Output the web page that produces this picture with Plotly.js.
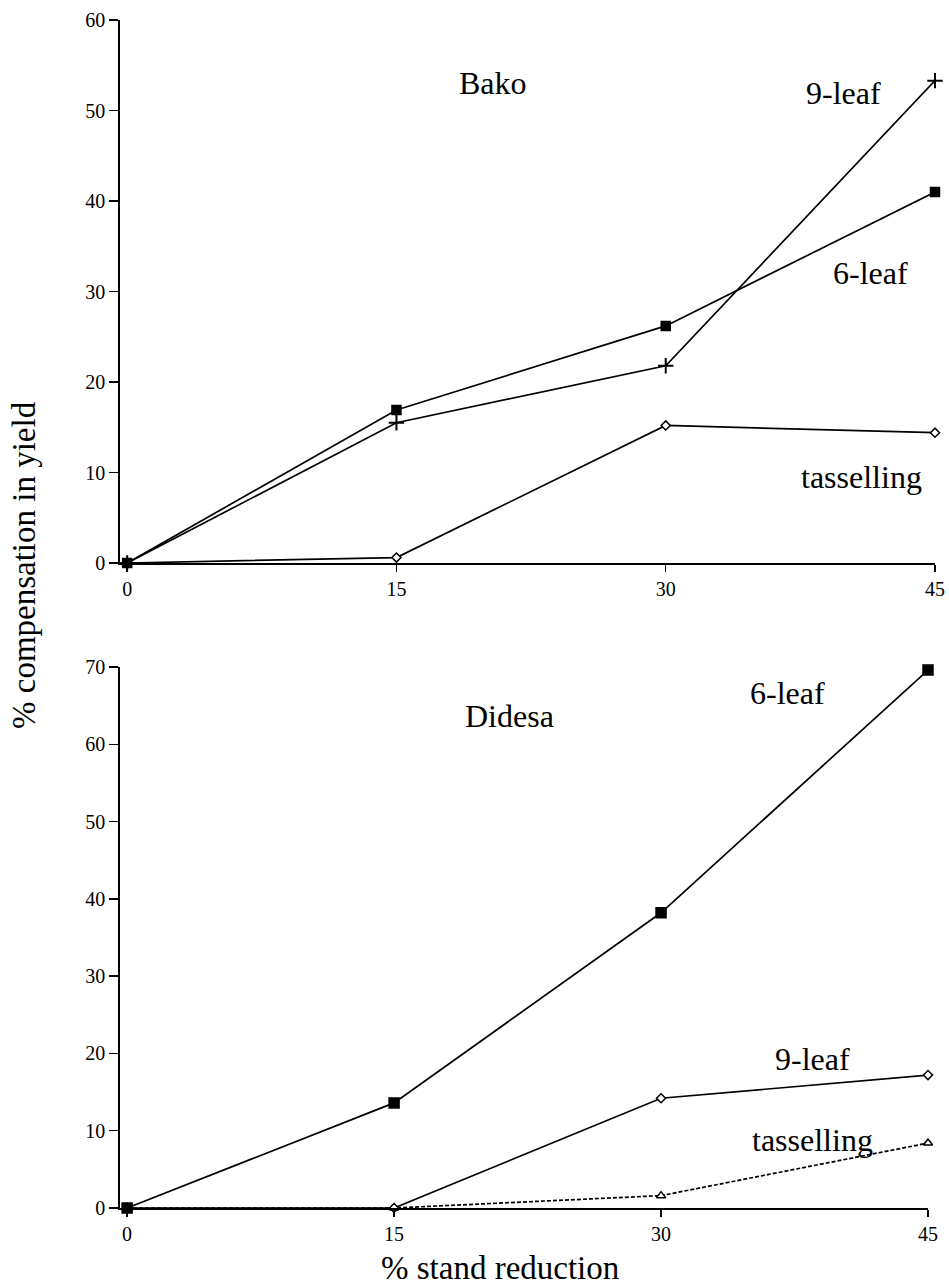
<!DOCTYPE html>
<html><head><meta charset="utf-8">
<script src="https://cdn.plot.ly/plotly-3.0.1.min.js"></script>
<style>html,body{margin:0;padding:0;background:#fff}</style></head>
<body><div id="chart" style="width:949px;height:1286px"></div>
<script>
const standReduction = [0, 15, 30, 45];
const xTickLabels = ['0', '15', '30', '45'];
const bakoSixLeaf = [0, 16.9, 26.2, 41.0];
const bakoNineLeaf = [0, 15.5, 21.8, 53.3];
const bakoTasselling = [0, 0.6, 15.2, 14.4];
const didesaSixLeaf = [0, 13.6, 38.2, 69.6];
const didesaNineLeaf = [0, 0, 14.2, 17.2];
const didesaTasselling = [0, 0, 1.6, 8.4];
const topYTicks = [0, 10, 20, 30, 40, 50, 60];
const bottomYTicks = [0, 10, 20, 30, 40, 50, 60, 70];

const FONT = '"Liberation Serif", serif';
const line = {color: '#000', width: 1.7};

function tr(y, xa, ya, sym, size, dash, fill) {
  return {
    x: standReduction, y: y, xaxis: xa, yaxis: ya, type: 'scatter', mode: 'lines+markers',
    line: Object.assign({}, line, {dash: dash || 'solid'}),
    marker: {symbol: sym, size: size, color: fill ? '#000' : '#fff', line: {color: '#000', width: 1.5}},
    cliponaxis: false, showlegend: false, hoverinfo: 'skip'
  };
}

const data = [
  tr(bakoTasselling, 'x', 'y', 'diamond', 7, 'solid', false),
  tr(bakoNineLeaf, 'x', 'y', 'cross-thin', 11, 'solid', false),
  tr(bakoSixLeaf, 'x', 'y', 'square', 9, 'solid', true),
  tr(didesaTasselling, 'x2', 'y2', 'triangle-up', 8, '4px,2px', false),
  tr(didesaNineLeaf, 'x2', 'y2', 'diamond', 7, 'solid', false),
  tr(didesaSixLeaf, 'x2', 'y2', 'square', 10, 'solid', true)
];
data[1].marker.line.width = 2;

const W = 949, H = 1286;
function xax(d) {
  return {domain: d, range: [-0.4, 45], tickmode: 'array', tickvals: standReduction, ticktext: xTickLabels,
    ticks: 'outside', ticklen: 7, tickwidth: 1.5, tickcolor: '#000', showline: true, linecolor: '#000', linewidth: 1.8,
    showgrid: false, zeroline: false, tickfont: {family: FONT, size: 20, color: '#000'}};
}
function yax(d, r, tv, anchor) {
  return {domain: d, range: r, tickmode: 'array', tickvals: tv, anchor: anchor,
    ticks: 'outside', ticklen: 9, tickwidth: 1.5, tickcolor: '#000', showline: true, linecolor: '#000', linewidth: 1.8,
    showgrid: false, zeroline: false, tickfont: {family: FONT, size: 20, color: '#000'}};
}

const txt = (t, x, y, xr, yr, size) => ({text: t, x: x, y: y, xref: xr, yref: yr, showarrow: false,
  xanchor: 'center', yanchor: 'middle',
  font: {family: FONT, size: size || 32, color: '#000'}});

const layout = {
  width: W, height: H, margin: {l: 0, r: 0, t: 0, b: 0},
  paper_bgcolor: '#fff', plot_bgcolor: '#fff',
  xaxis: Object.assign(xax([120 / W, 935 / W]), {anchor: 'y'}),
  yaxis: yax([1 - 563 / H, 1 - 20 / H], [0, 60], topYTicks, 'x'),
  xaxis2: Object.assign(xax([120 / W, 928 / W]), {anchor: 'y2'}),
  yaxis2: yax([1 - 1208 / H, 1 - 667 / H], [0, 70], bottomYTicks, 'x2'),
  annotations: [
    txt('Bako', 20.4, 53, 'x', 'y'),
    txt('9-leaf', 39.9, 51.9, 'x', 'y'),
    txt('6-leaf', 41.4, 32.0, 'x', 'y'),
    txt('tasselling', 40.9, 9.5, 'x', 'y'),
    txt('Didesa', 21.5, 63.7, 'x2', 'y2'),
    txt('6-leaf', 37.1, 66.6, 'x2', 'y2'),
    txt('9-leaf', 38.5, 19.3, 'x2', 'y2'),
    txt('tasselling', 38.5, 8.8, 'x2', 'y2'),
    Object.assign(txt('% compensation in yield', 24 / W, 1 - 565 / H, 'paper', 'paper', 33), {textangle: -90}),
    txt('% stand reduction', 500 / W, 1 - 1268 / H, 'paper', 'paper', 33)
  ]
};

Plotly.newPlot('chart', data, layout, {staticPlot: true, displayModeBar: false});
</script></body></html>
